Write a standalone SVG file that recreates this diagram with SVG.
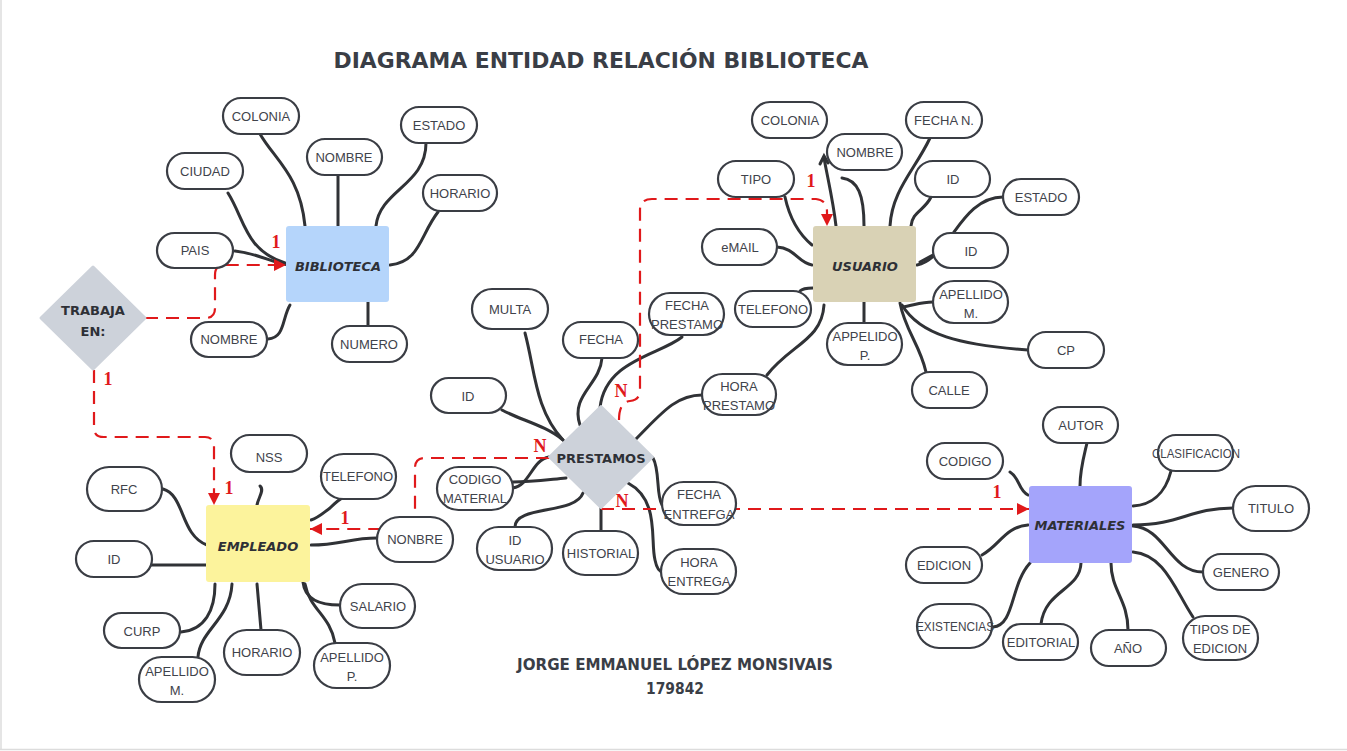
<svg xmlns="http://www.w3.org/2000/svg" width="1347" height="751" viewBox="0 0 1347 751">
<defs>
<style>
.attr rect{fill:#fff;stroke:#3a3d44;stroke-width:2.2}
.attr text{font-family:"Liberation Sans",Arial,sans-serif;font-size:13px;fill:#3f434b;text-anchor:middle;dominant-baseline:central}
.ent text{font-family:"DejaVu Sans",sans-serif;font-weight:bold;font-size:13px;fill:#2e3036;text-anchor:middle;dominant-baseline:central}
.ent text.it{font-style:italic}
.links path{fill:none;stroke:#303236;stroke-width:3;stroke-linecap:round}
.rel path{fill:none;stroke:#e0191b;stroke-width:2.2;stroke-dasharray:13 8}
.card{font-family:"Liberation Serif",serif;font-weight:bold;font-size:18px;fill:#e0191b;text-anchor:middle}
.title{font-family:"DejaVu Sans",sans-serif;font-weight:bold;fill:#3a3e46;text-anchor:middle}
</style>
<marker id="ar" viewBox="0 0 10 10" refX="10" refY="5" markerWidth="12" markerHeight="12" orient="auto" markerUnits="userSpaceOnUse">
<path d="M0 0 L10 5 L0 10 z" fill="#e0191b"/>
</marker>
</defs>
<rect x="0" y="0" width="1347" height="751" fill="#fff"/>
<line x1="1" y1="0" x2="1" y2="749" stroke="#dcdcdc" stroke-width="1.5"/>
<line x1="0" y1="749.5" x2="1347" y2="749.5" stroke="#dcdcdc" stroke-width="1.5"/>

<text class="title" x="601" y="68" font-size="22" textLength="535" lengthAdjust="spacingAndGlyphs">DIAGRAMA ENTIDAD RELACIÓN BIBLIOTECA</text>
<text class="title" x="675" y="670" font-size="15" textLength="316" lengthAdjust="spacingAndGlyphs">JORGE EMMANUEL LÓPEZ MONSIVAIS</text>
<text class="title" x="675" y="694" font-size="15" textLength="58" lengthAdjust="spacingAndGlyphs">179842</text>

<g id="connectors">
<g class="links">
<path d="M260 134 C275 160 300 175 305 226"/>
<path d="M338 175 L338 226"/>
<path d="M426 143 C426 185 380 190 376 226"/>
<path d="M228 193 C245 220 245 250 285 263"/>
<path d="M438 212 C420 235 420 262 390 265"/>
<path d="M235 251 C260 254 270 262 288 265"/>
<path d="M268 339 C285 338 282 318 290 305"/>
<path d="M368 326 L368 302"/>
<path d="M836 226 C833 200 828 180 824 158"/>
<path d="M820 164 L824 156 L828 163" stroke-width="2.5"/>
<path d="M842 178 C858 180 864 195 864 226"/>
<path d="M930 138 C915 170 892 190 890 226"/>
<path d="M931 197 C925 210 912 212 911 226"/>
<path d="M1003 197 C975 197 960 225 948 240 C938 252 930 262 917 265"/>
<path d="M933 255 L920 262"/>
<path d="M785 197 C790 220 800 235 812 245"/>
<path d="M777 247 C795 248 798 263 812 265"/>
<path d="M800 291 C803 288 808 288 813 288"/>
<path d="M767 375 C790 345 822 340 824 305"/>
<path d="M864 302 L864 323"/>
<path d="M902 307 C912 306 920 302 933 302"/>
<path d="M902 305 C920 335 960 345 1028 350"/>
<path d="M900 303 C905 330 920 345 926 372"/>
<path d="M525 333 C535 370 535 410 563 440"/>
<path d="M502 410 C520 420 545 425 563 440"/>
<path d="M602 358 C600 385 570 395 580 425"/>
<path d="M682 337 C660 355 605 360 600 408"/>
<path d="M702 395 C675 395 660 415 635 440"/>
<path d="M513 482 C530 482 545 480 566 478"/>
<path d="M513 488 C530 485 532 460 549 457"/>
<path d="M515 527 C515 505 575 515 583 493"/>
<path d="M601 508 L601 531"/>
<path d="M653 458 C660 470 656 495 662 505"/>
<path d="M628 483 C660 500 650 540 655 560 C657 570 660 572 663 572"/>
<path d="M260 486 C265 490 258 498 257 505"/>
<path d="M163 489 C185 495 180 535 207 545"/>
<path d="M356 497 C352 490 340 498 330 508 C322 514 318 518 311 520"/>
<path d="M147 565 L207 565"/>
<path d="M311 545 C340 545 350 538 377 538"/>
<path d="M303 582 C305 600 320 605 340 605"/>
<path d="M305 584 C310 610 330 615 335 643"/>
<path d="M257 584 L261 630"/>
<path d="M215 584 C215 610 205 630 181 632"/>
<path d="M232 584 C230 620 200 630 198 657"/>
<path d="M1087 443 C1083 460 1080 470 1080 486"/>
<path d="M1010 472 C1020 478 1018 490 1028 495"/>
<path d="M1171 471 C1165 495 1150 505 1133 506"/>
<path d="M1233 508 C1190 508 1180 525 1133 525"/>
<path d="M1203 572 C1170 572 1165 528 1133 526"/>
<path d="M1193 617 C1175 590 1165 555 1133 552"/>
<path d="M982 555 C1000 545 1005 527 1028 525"/>
<path d="M993 627 C1015 625 1010 585 1030 563"/>
<path d="M1041 624 C1045 590 1080 590 1081 563"/>
<path d="M1128 630 C1128 600 1111 590 1111 563"/>
</g>
<g class="rel">
<path d="M145 318 H205 Q215 318 215 308 V275 Q215 265 225 265 H286" marker-end="url(#ar)"/>
<path d="M94 370 V428 Q94 437 104 437 H205 Q214 437 214 447 V505" marker-end="url(#ar)"/>
<path d="M619 420 Q619 402 630 401 Q640 400 640 390 V210 Q640 199 652 199 H816 Q827 200 827 212 V226" marker-end="url(#ar)"/>
<path d="M601 509 H1029" marker-end="url(#ar)"/>
<path d="M549 458 H425 Q415 458 415 468 V519 Q415 529 405 529 H310" marker-end="url(#ar)"/>
</g>
<text class="card" x="276" y="248">1</text>
<text class="card" x="108" y="385">1</text>
<text class="card" x="229" y="494">1</text>
<text class="card" x="811" y="187">1</text>
<text class="card" x="621" y="397">N</text>
<text class="card" x="540" y="452">N</text>
<text class="card" x="622" y="507">N</text>
<text class="card" x="997" y="498">1</text>
<text class="card" x="345" y="524">1</text>
</g>

<g id="biblioteca" class="ent"><rect x="286" y="226" width="103" height="76" rx="3" fill="#b5d5fb"/><text class="it" x="338" y="266">BIBLIOTECA</text></g>
<g id="usuario" class="ent"><rect x="813" y="226" width="103" height="76" rx="3" fill="#d9d2b5"/><text class="it" x="865" y="266">USUARIO</text></g>
<g id="empleado" class="ent"><rect x="206" y="505" width="104" height="77" rx="3" fill="#fcf39c"/><text class="it" x="258" y="546">EMPLEADO</text></g>
<g id="materiales" class="ent"><rect x="1029" y="486" width="103" height="77" rx="3" fill="#a4a4fb"/><text class="it" x="1080" y="525">MATERIALES</text></g>
<g id="prestamos" class="ent"><path d="M601 406 L653 457 L601 508 L549 457 Z" fill="#cdd2da" stroke="#cdd2da" stroke-width="2" stroke-linejoin="round"/><text x="601" y="458">PRESTAMOS</text></g>
<g id="trabaja" class="ent"><path d="M93 267 L145 318 L93 369 L41 318 Z" fill="#cdd2da" stroke="#cdd2da" stroke-width="3" stroke-linejoin="round"/><text x="93" y="310">TRABAJA</text><text x="93" y="331">EN:</text></g>

<g id="b-colonia" class="attr"><rect x="223" y="98" width="76" height="36" rx="18"/><text x="261" y="116">COLONIA</text></g>
<g id="b-nombre" class="attr"><rect x="307" y="139" width="75" height="36" rx="18"/><text x="344" y="157">NOMBRE</text></g>
<g id="b-estado" class="attr"><rect x="401" y="107" width="76" height="36" rx="18"/><text x="439" y="125">ESTADO</text></g>
<g id="b-ciudad" class="attr"><rect x="167" y="153" width="76" height="36" rx="18"/><text x="205" y="171">CIUDAD</text></g>
<g id="b-horario" class="attr"><rect x="423" y="175" width="74" height="36" rx="18"/><text x="460" y="193">HORARIO</text></g>
<g id="b-pais" class="attr"><rect x="157" y="233" width="76" height="35" rx="17.5"/><text x="195" y="250">PAIS</text></g>
<g id="b-nombre2" class="attr"><rect x="191" y="322" width="76" height="35" rx="17.5"/><text x="229" y="339">NOMBRE</text></g>
<g id="b-numero" class="attr"><rect x="332" y="326" width="75" height="36" rx="18"/><text x="369" y="344">NUMERO</text></g>

<g id="u-colonia" class="attr"><rect x="752" y="102" width="75" height="36" rx="18"/><text x="790" y="120">COLONIA</text></g>
<g id="u-nombre" class="attr"><rect x="827" y="134" width="75" height="36" rx="18"/><text x="865" y="152">NOMBRE</text></g>
<g id="u-fechan" class="attr"><rect x="906" y="102" width="76" height="36" rx="18"/><text x="944" y="120">FECHA N.</text></g>
<g id="u-tipo" class="attr"><rect x="718" y="161" width="76" height="36" rx="18"/><text x="756" y="179">TIPO</text></g>
<g id="u-id1" class="attr"><rect x="915" y="161" width="75" height="36" rx="18"/><text x="953" y="179">ID</text></g>
<g id="u-estado" class="attr"><rect x="1003" y="179" width="76" height="36" rx="18"/><text x="1041" y="197">ESTADO</text></g>
<g id="u-email" class="attr"><rect x="702" y="229" width="75" height="36" rx="18"/><text x="740" y="247">eMAIL</text></g>
<g id="u-id2" class="attr"><rect x="933" y="233" width="75" height="35" rx="17.5"/><text x="971" y="251">ID</text></g>
<g id="u-telefono" class="attr"><rect x="735" y="291" width="76" height="36" rx="18"/><text x="773" y="309">TELEFONO</text></g>
<g id="u-apellidom" class="attr"><rect x="933" y="281" width="75" height="42" rx="21"/><text x="971" y="294">APELLIDO</text><text x="971" y="313">M.</text></g>
<g id="u-appelidop" class="attr"><rect x="827" y="323" width="75" height="42" rx="21"/><text x="865" y="336">APPELIDO</text><text x="865" y="355">P.</text></g>
<g id="u-cp" class="attr"><rect x="1028" y="332" width="76" height="36" rx="18"/><text x="1066" y="350">CP</text></g>
<g id="u-calle" class="attr"><rect x="912" y="372" width="75" height="36" rx="18"/><text x="949" y="390">CALLE</text></g>

<g id="p-multa" class="attr"><rect x="472" y="289" width="76" height="40" rx="20"/><text x="510" y="309">MULTA</text></g>
<g id="p-fecha" class="attr"><rect x="563" y="322" width="75" height="36" rx="18"/><text x="601" y="339">FECHA</text></g>
<g id="p-fechaprestamo" class="attr"><rect x="649" y="293" width="75" height="42" rx="21"/><text x="687" y="305">FECHA</text><text x="687" y="324">PRESTAMO</text></g>
<g id="p-id" class="attr"><rect x="431" y="378" width="75" height="35" rx="17.5"/><text x="468" y="396">ID</text></g>
<g id="p-horaprestamo" class="attr"><rect x="702" y="374" width="74" height="41" rx="20.5"/><text x="739" y="386">HORA</text><text x="739" y="405">PRESTAMO</text></g>
<g id="p-codigomaterial" class="attr"><rect x="437" y="467" width="76" height="43" rx="21.5"/><text x="475" y="479">CODIGO</text><text x="475" y="498">MATERIAL</text></g>
<g id="p-fechaentrega" class="attr"><rect x="662" y="482" width="74" height="43" rx="21.5"/><text x="699" y="494">FECHA</text><text x="699" y="514">ENTREFGA</text></g>
<g id="p-idusuario" class="attr"><rect x="477" y="527" width="75" height="43" rx="21.5"/><text x="515" y="540">ID</text><text x="515" y="559">USUARIO</text></g>
<g id="p-historial" class="attr"><rect x="563" y="531" width="75" height="44" rx="22"/><text x="601" y="553">HISTORIAL</text></g>
<g id="p-horaentrega" class="attr"><rect x="661" y="549" width="75" height="45" rx="22.5"/><text x="699" y="562">HORA</text><text x="699" y="581">ENTREGA</text></g>

<g id="e-nss" class="attr"><rect x="231" y="435" width="76" height="37" rx="18.5"/><text x="269" y="457">NSS</text></g>
<g id="e-rfc" class="attr"><rect x="87" y="467" width="75" height="44" rx="22"/><text x="124" y="489">RFC</text></g>
<g id="e-telefono" class="attr"><rect x="321" y="454" width="75" height="45" rx="22.5"/><text x="358" y="476">TELEFONO</text></g>
<g id="e-id" class="attr"><rect x="76" y="541" width="76" height="36" rx="18"/><text x="114" y="559">ID</text></g>
<g id="e-nonbre" class="attr"><rect x="377" y="517" width="76" height="45" rx="22.5"/><text x="415" y="539">NONBRE</text></g>
<g id="e-salario" class="attr"><rect x="340" y="584" width="75" height="44" rx="22"/><text x="378" y="606">SALARIO</text></g>
<g id="e-curp" class="attr"><rect x="104" y="613" width="76" height="35" rx="17.5"/><text x="142" y="631">CURP</text></g>
<g id="e-horario" class="attr"><rect x="224" y="630" width="76" height="45" rx="22.5"/><text x="262" y="652">HORARIO</text></g>
<g id="e-apellidom" class="attr"><rect x="139" y="657" width="76" height="45" rx="22.5"/><text x="177" y="671">APELLIDO</text><text x="177" y="690">M.</text></g>
<g id="e-apellidop" class="attr"><rect x="314" y="643" width="76" height="45" rx="22.5"/><text x="352" y="657">APELLIDO</text><text x="352" y="676">P.</text></g>

<g id="m-autor" class="attr"><rect x="1043" y="407" width="75" height="36" rx="18"/><text x="1081" y="425">AUTOR</text></g>
<g id="m-codigo" class="attr"><rect x="927" y="443" width="76" height="36" rx="18"/><text x="965" y="461">CODIGO</text></g>
<g id="m-clasificacion" class="attr"><rect x="1158" y="435" width="75" height="36" rx="18"/><text x="1196" y="453" textLength="88" lengthAdjust="spacingAndGlyphs">CLASIFICACION</text></g>
<g id="m-titulo" class="attr"><rect x="1233" y="486" width="76" height="45" rx="22.5"/><text x="1271" y="508">TITULO</text></g>
<g id="m-edicion" class="attr"><rect x="906" y="547" width="76" height="36" rx="18"/><text x="944" y="565">EDICION</text></g>
<g id="m-genero" class="attr"><rect x="1203" y="554" width="76" height="36" rx="18"/><text x="1241" y="572">GENERO</text></g>
<g id="m-existencias" class="attr"><rect x="917" y="604" width="75" height="44" rx="22"/><text x="955" y="626" textLength="78" lengthAdjust="spacingAndGlyphs">EXISTENCIAS</text></g>
<g id="m-editorial" class="attr"><rect x="1003" y="624" width="75" height="36" rx="18"/><text x="1041" y="642">EDITORIAL</text></g>
<g id="m-anio" class="attr"><rect x="1091" y="630" width="75" height="36" rx="18"/><text x="1128" y="648">AÑO</text></g>
<g id="m-tipos" class="attr"><rect x="1183" y="616" width="75" height="44" rx="22"/><text x="1220" y="629">TIPOS DE</text><text x="1220" y="648">EDICION</text></g>
</svg>
